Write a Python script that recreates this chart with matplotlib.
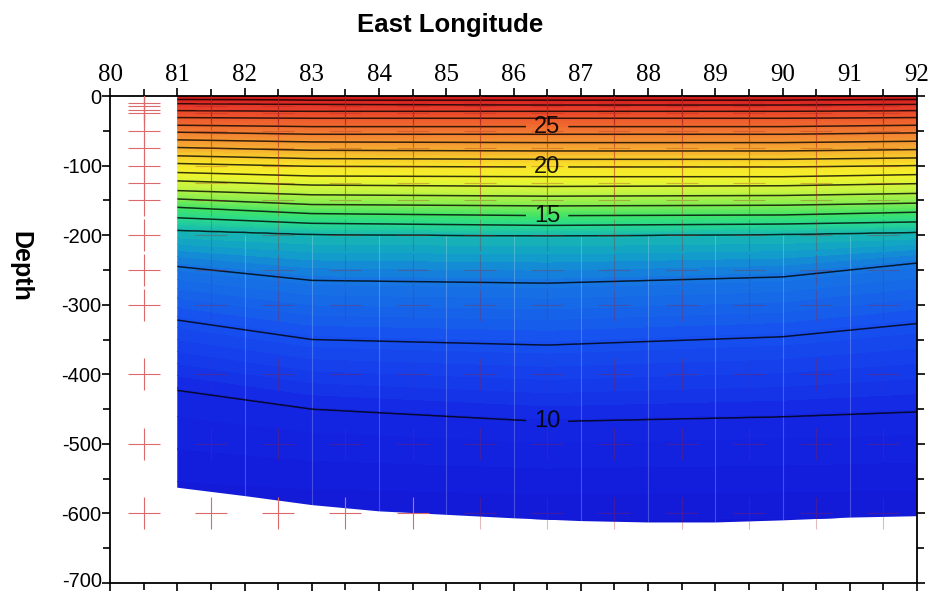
import numpy as np
import matplotlib
matplotlib.use('Agg')
import matplotlib.pyplot as plt
from matplotlib.colors import LinearSegmentedColormap
from matplotlib.patches import Polygon
from matplotlib.ticker import MultipleLocator
from matplotlib.transforms import ScaledTranslation

plt.rcParams['axes.unicode_minus'] = False

# isotherm levels (deg C) and their depths (m) read at a few longitudes
iso_levels = [29, 28, 27, 26, 25, 24, 23, 22, 21, 20, 19, 18, 17, 16, 15, 14, 13, 12, 11, 10]
iso_lons = [81.0, 83.0, 86.5, 90.0, 92.0]
iso_depths = [
    [5, 11, 21, 31, 42, 52, 63, 74, 86, 97, 110, 122, 136, 148, 160, 175, 193, 245, 322, 423],
    [6, 12, 22, 32, 44, 55, 66, 78, 90, 101, 115, 128, 142, 156, 169, 183, 199, 265, 350, 450],
    [6, 13, 22, 32, 44, 55, 67, 79, 91, 102, 116, 130, 144, 158, 172, 186, 201, 269, 358, 468],
    [6, 13, 22, 32, 44, 55, 67, 79, 91, 102, 116, 129, 143, 157, 171, 184, 199, 260, 346, 461],
    [5, 12, 21, 31, 42, 53, 65, 77, 89, 100, 113, 126, 140, 154, 167, 181, 196, 240, 327, 454],
]
surface_temp = 29.4
deep_temp = 9.2
deep_depth = 640

# bottom of the section (m)
bottom_lons = [81, 82, 83, 84, 85, 86, 87, 88, 89, 90, 91, 92]
bottom_depths = [563, 575, 588, 597, 602, 607, 611, 613, 613, 610, 606, 604]

# sampling stations (red crosses)
station_lons = [80.5, 81.5, 82.5, 83.5, 84.5, 85.5, 86.5, 87.5, 88.5, 89.5, 90.5, 91.5]
station_depths = [10, 15, 20, 25, 50, 75, 100, 125, 150, 200, 250, 300, 400, 500, 600]

label_lon = 86.5
label_levels = [10, 15, 20, 25]

# colour ramp anchors (temperature, colour)
cmap_temps = [9.0, 10.0, 11.0, 12.0, 12.6, 13.0, 14.0, 15.0, 16.0, 17.5, 19.0, 20.5, 22.0, 24.0, 26.0, 28.0, 29.5]
cmap_colors = ['#1212d2', '#1428e4', '#1650f0', '#1676e2', '#12a0c8', '#18b8b0', '#28d890',
               '#40e468', '#80ec50', '#c8f440', '#f4f42c', '#f8dc28', '#f6b030', '#f28032',
               '#ee5a2c', '#e4342a', '#d01818']

# build the field
lon = np.linspace(81, 92, 441)
dep = np.linspace(0, 640, 641)
iso_depths = np.array(iso_depths, dtype=float)
temp = np.zeros((dep.size, lon.size))
for j, x in enumerate(lon):
    d = [np.interp(x, iso_lons, iso_depths[:, k]) for k in range(len(iso_levels))]
    knots = [0] + d + [deep_depth]
    vals = [surface_temp] + iso_levels + [deep_temp]
    temp[:, j] = np.interp(dep, knots, vals)

tmin, tmax = cmap_temps[0], cmap_temps[-1]
pos = [(t - tmin) / (tmax - tmin) for t in cmap_temps]
cmap = LinearSegmentedColormap.from_list('sect', list(zip(pos, cmap_colors)))

fig = plt.figure(figsize=(9.33, 5.92), dpi=100)
ax = fig.add_axes([110 / 933, 9 / 592, 807 / 933, 487 / 592])

X, Y = np.meshgrid(lon, -dep)
clip = Polygon([(81, 0)] + [(x, -d) for x, d in zip(bottom_lons, bottom_depths)] + [(92, 0)],
               closed=True, transform=ax.transData, facecolor='none', edgecolor='none')
ax.add_patch(clip)

cf = ax.contourf(X, Y, temp, levels=np.linspace(tmin, tmax, 120), cmap=cmap, vmin=tmin, vmax=tmax, zorder=2)
cf.set_clip_path(clip)

# faint grid seams in the deep part, as in the original rendering
seams = ax.vlines(np.arange(82, 92), -700, -200, colors='white', linewidth=0.8, alpha=0.22, zorder=2.5)
seams.set_clip_path(clip)

plain_levels = sorted(l for l in iso_levels if l not in label_levels)
cl = ax.contour(X, Y, temp, levels=plain_levels, colors='black', linewidths=1.1, alpha=0.78, zorder=3)
cl.set_clip_path(clip)
cl2 = ax.contour(X, Y, temp, levels=label_levels, colors='black', linewidths=1.1, alpha=0.78, zorder=3)
cl2.set_clip_path(clip)

manual = []
for lev in label_levels:
    k = iso_levels.index(lev)
    manual.append((label_lon, -np.interp(label_lon, iso_lons, iso_depths[:, k])))
lbls = cl2.clabel(manual=manual, inline=True, fmt='%d', fontsize=17, inline_spacing=8)
for t in lbls:
    t.set_family('Liberation Sans')
    t.set_alpha(0.9)

# stations
for x in station_lons:
    bd = np.interp(x, bottom_lons, bottom_depths)
    sd = np.array(station_depths)
    inside = (x > 81) & (sd < bd)
    ax.plot([x] * (~inside).sum(), -sd[~inside], ls='none', marker='+', ms=23, mew=0.8,
            color='#dc6a6a', zorder=4)
    ax.plot([x] * inside.sum(), -sd[inside], ls='none', marker='+', ms=23, mew=0.8,
            color='#a82020', alpha=0.3, zorder=4)

ax.set_xlim(80, 92)
ax.set_ylim(-700, 0)
ax.xaxis.set_minor_locator(MultipleLocator(0.5))
ax.yaxis.set_minor_locator(MultipleLocator(50))
ax.tick_params(axis='x', which='both', top=True, bottom=True, labeltop=True, labelbottom=False,
               direction='out', width=1.2)
ax.tick_params(axis='y', which='both', left=True, right=True, labelleft=True, labelright=False,
               direction='out', width=1.2)
ax.tick_params(which='major', length=6)
ax.tick_params(which='minor', length=5)
ax.tick_params(axis='x', pad=1)
ax.tick_params(axis='y', pad=0)
ax.set_xticks(np.arange(80, 93, 1))
ax.set_xticklabels([str(v) for v in range(80, 93)], family='Liberation Serif', fontsize=18)
ax.set_yticks(np.arange(-700, 1, 100))
ax.set_yticklabels([str(v) for v in np.arange(-700, 1, 100)], family='Liberation Sans', fontsize=14.5)
# nudge the lowest label up a little so it stays inside the figure
low = ax.get_yticklabels()[0]
low.set_transform(low.get_transform() + ScaledTranslation(0, 0.035, fig.dpi_scale_trans))
for s in ax.spines.values():
    s.set_linewidth(1.3)

fig.text(450 / 933, 1 - 25 / 592, 'East Longitude', ha='center', va='center',
         fontsize=18.5, fontweight='bold', family='Liberation Sans')
fig.text(20 / 933, 1 - 266 / 592, 'Depth', ha='center', va='center', rotation=270,
         fontsize=18, fontweight='bold', family='Liberation Sans')

fig.savefig('out.png', dpi=100)
